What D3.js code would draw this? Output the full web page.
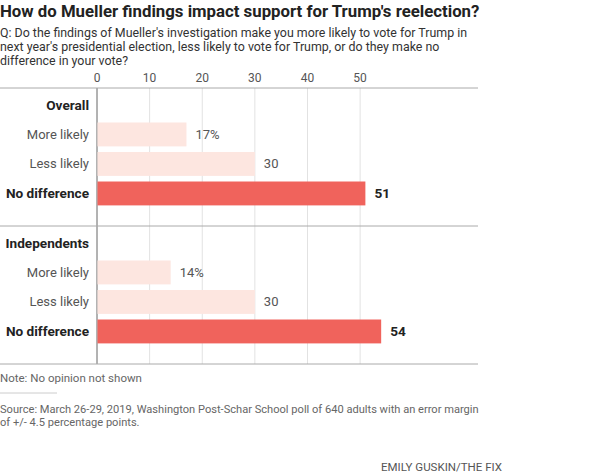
<!DOCTYPE html>
<html>
<head>
<meta charset="utf-8">
<script src="https://cdn.jsdelivr.net/npm/d3@7"></script>
<style>
	body { margin: 0; background: #fff; }
	svg text { font-family: 'Roboto', 'Liberation Sans', sans-serif; }
</style>
</head>
<body>
<svg id="svg"></svg>
<script>
const groups = ['Overall', 'Independents'];
const categories = ['More likely', 'Less likely', 'No difference'];
const overallValues = [17, 30, 51];
const independentValues = [14, 30, 54];
const tickValues = [0, 10, 20, 30, 40, 50];
const subtitleLines = [
	"Q: Do the findings of Mueller's investigation make you more likely to vote for Trump in",
	"next year's presidential election, less likely to vote for Trump, or do they make no",
	"difference in your vote?"
];
const sourceLines = [
	'Source: March 26-29, 2019, Washington Post-Schar School poll of 640 adults with an error margin',
	'of +/- 4.5 percentage points.'
];

const width = 600;
const height = 473;
const svg = d3.select('#svg').attr('width', width).attr('height', height);

const plotTop = 88;
const plotBottom = 364;
const plotLeft = 97;
const plotRight = 478;

const x = d3.scaleLinear().domain([0, 72.4]).range([plotLeft, plotRight]);
const yGroup = d3.scaleBand().domain(groups).range([plotTop, plotBottom]);
const yRow = d3.scaleBand()
	.domain(['header'].concat(categories))
	.range([5, 117.4])
	.paddingInner(0.19);

const valuesByGroup = { 'Overall': overallValues, 'Independents': independentValues };

// title + question
svg.append('text')
	.attr('x', 0).attr('y', 17)
	.attr('font-size', 16.8).attr('font-weight', 'bold').attr('fill', '#222')
	.text("How do Mueller findings impact support for Trump's reelection?");

svg.selectAll('text.subtitle')
	.data(subtitleLines)
	.enter()
	.append('text')
	.attr('class', 'subtitle')
	.attr('x', 0)
	.attr('y', (d, i) => 37 + i * 14)
	.attr('font-size', 12.4).attr('fill', '#333')
	.text(d => d);

// gridlines
svg.selectAll('line.grid')
	.data(tickValues)
	.enter()
	.append('line')
	.attr('class', 'grid')
	.attr('x1', d => x(d)).attr('x2', d => x(d))
	.attr('y1', plotTop).attr('y2', plotBottom)
	.attr('stroke', d => d === 0 ? '#666' : '#e2e2e2')
	.attr('stroke-width', 1);

svg.selectAll('text.tick')
	.data(tickValues)
	.enter()
	.append('text')
	.attr('class', 'tick')
	.attr('x', d => x(d)).attr('y', 81.5)
	.attr('text-anchor', 'middle')
	.attr('font-size', 12).attr('fill', '#555')
	.text(d => d);

// group separators
svg.selectAll('line.sep')
	.data(groups.concat(['end']))
	.enter()
	.append('line')
	.attr('class', 'sep')
	.attr('x1', 0).attr('x2', plotRight)
	.attr('y1', d => d === 'end' ? plotBottom : yGroup(d))
	.attr('y2', d => d === 'end' ? plotBottom : yGroup(d))
	.attr('stroke', '#aaa').attr('stroke-width', 1);

const groupG = svg.selectAll('g.group')
	.data(groups)
	.enter()
	.append('g')
	.attr('class', 'group')
	.attr('transform', g => `translate(0, ${yGroup(g)})`);

groupG.append('text')
	.attr('x', 89)
	.attr('y', yRow('header') + yRow.bandwidth() / 2)
	.attr('dy', '0.35em')
	.attr('text-anchor', 'end')
	.attr('font-size', 13.6).attr('font-weight', 'bold').attr('fill', '#222')
	.text(g => g);

groupG.each(function(g) {
	const rows = categories.map((c, i) => ({ category: c, value: valuesByGroup[g][i], first: i === 0, main: i === categories.length - 1 }));
	const rowG = d3.select(this)
		.selectAll('g.row')
		.data(rows)
		.enter()
		.append('g')
		.attr('class', 'row')
		.attr('transform', r => `translate(0, ${yRow(r.category)})`);

	rowG.append('rect')
		.attr('x', x(0) + 0.5)
		.attr('y', 0)
		.attr('width', r => x(r.value) - x(0) - 0.5)
		.attr('height', yRow.bandwidth())
		.attr('fill', r => r.main ? '#f0635c' : '#fde6e0');

	rowG.append('text')
		.attr('x', 89)
		.attr('y', yRow.bandwidth() / 2)
		.attr('dy', '0.35em')
		.attr('text-anchor', 'end')
		.attr('font-size', r => r.main ? 13.6 : 13)
		.attr('font-weight', r => r.main ? 'bold' : 'normal')
		.attr('fill', r => r.main ? '#222' : '#555')
		.text(r => r.category);

	rowG.append('text')
		.attr('x', r => x(r.value) + 9)
		.attr('y', yRow.bandwidth() / 2)
		.attr('dy', '0.35em')
		.attr('font-size', r => r.main ? 13.6 : 13)
		.attr('font-weight', r => r.main ? 'bold' : 'normal')
		.attr('fill', r => r.main ? '#222' : '#555')
		.text(r => r.first ? r.value + '%' : r.value);
});

// footer
svg.append('text')
	.attr('x', 0).attr('y', 382)
	.attr('font-size', 11.5).attr('fill', '#666')
	.text('Note: No opinion not shown');

svg.append('line')
	.attr('x1', 0).attr('x2', 57)
	.attr('y1', 393).attr('y2', 393)
	.attr('stroke', '#ccc').attr('stroke-width', 1);

svg.selectAll('text.source')
	.data(sourceLines)
	.enter()
	.append('text')
	.attr('class', 'source')
	.attr('x', 0)
	.attr('y', (d, i) => 413 + i * 13)
	.attr('font-size', 11.1).attr('fill', '#666')
	.text(d => d);

svg.append('text')
	.attr('x', 502).attr('y', 471)
	.attr('text-anchor', 'end')
	.attr('font-size', 11.5).attr('fill', '#555')
	.text('EMILY GUSKIN/THE FIX');
</script>
</body>
</html>
